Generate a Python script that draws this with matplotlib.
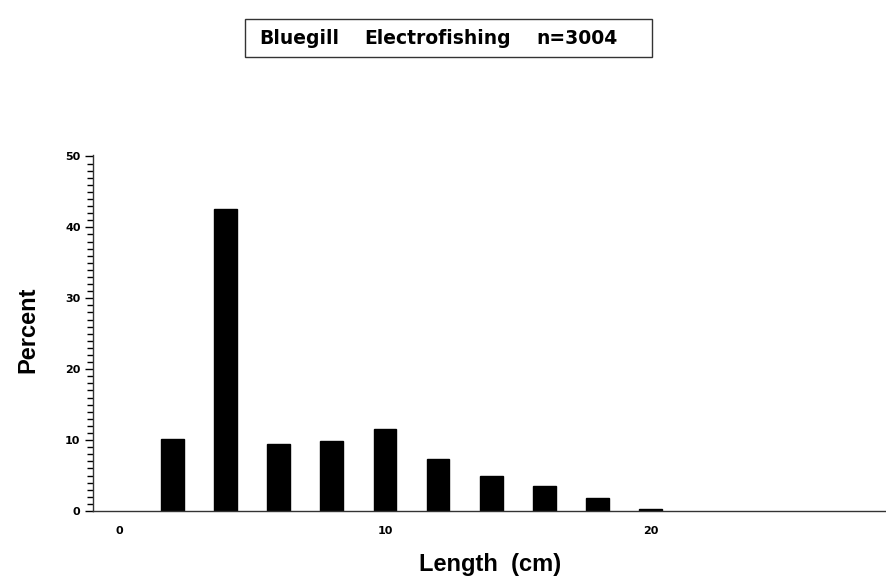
import matplotlib
matplotlib.use("Agg")
import matplotlib.pyplot as plt
from matplotlib.patches import Rectangle
from matplotlib.ticker import MultipleLocator

plt.rcParams['font.family'] = ['Liberation Sans', 'DejaVu Sans']
plt.rcParams['font.weight'] = 'bold'

# Längenklassen (cm) und Anteil in Prozent
lengths = [2, 4, 6, 8, 10, 12, 14, 16, 18, 20]
percent = [10.1, 42.6, 9.4, 9.9, 11.6, 7.3, 4.9, 3.5, 1.8, 0.3]
x_ticks = [0, 10, 20]
y_ticks = [0, 10, 20, 30, 40, 50]
title_words = ["Bluegill", "Electrofishing", "n=3004"]
title_x = [259, 364, 536]  # linke Kante der Woerter in Pixel

W, H = 886, 586
fig = plt.figure(figsize=(W / 100, H / 100), dpi=100)
ax = fig.add_axes([93 / W, 1 - 511 / H, 1 - 93 / W, (511 - 155) / H])

ax.bar(lengths, percent, width=0.85, color="black", edgecolor="black")

ax.set_xlim(-0.98, 28.85)
ax.set_ylim(0, 50.2)
ax.set_xticks(x_ticks)
ax.set_yticks(y_ticks)
ax.yaxis.set_minor_locator(MultipleLocator(1))
ax.tick_params(axis="x", length=0, pad=11, labelsize=8)
ax.tick_params(axis="y", which="major", length=6, width=1, pad=3, labelsize=8)
ax.tick_params(axis="y", which="minor", length=4, width=1)
for lab in ax.get_xticklabels() + ax.get_yticklabels():
    lab.set_family("DejaVu Sans")
    lab.set_weight("bold")

for side in ["top", "right"]:
    ax.spines[side].set_visible(False)
for side in ["left", "bottom"]:
    ax.spines[side].set_linewidth(1)
    ax.spines[side].set_color("#333333")

# Achsenbeschriftungen
fig.text(28 / W, 1 - 330 / H, "Percent", rotation=90, ha="center", va="center",
         fontsize=17, fontweight="bold")
fig.text(490 / W, 1 - 564 / H, "Length  (cm)", ha="center", va="center",
         fontsize=17, fontweight="bold")

# Titel im Kasten
fig.patches.append(Rectangle((245 / W, 1 - 57 / H), (652 - 245) / W, (57 - 19) / H,
                             transform=fig.transFigure, facecolor="white",
                             edgecolor="#333333", linewidth=1))
for word, xp in zip(title_words, title_x):
    fig.text(xp / W, 1 - 38 / H, word, ha="left", va="center", fontsize=13.5,
             fontweight="bold", family="DejaVu Sans")

fig.savefig("out.png", dpi=100)
plt.close(fig)
